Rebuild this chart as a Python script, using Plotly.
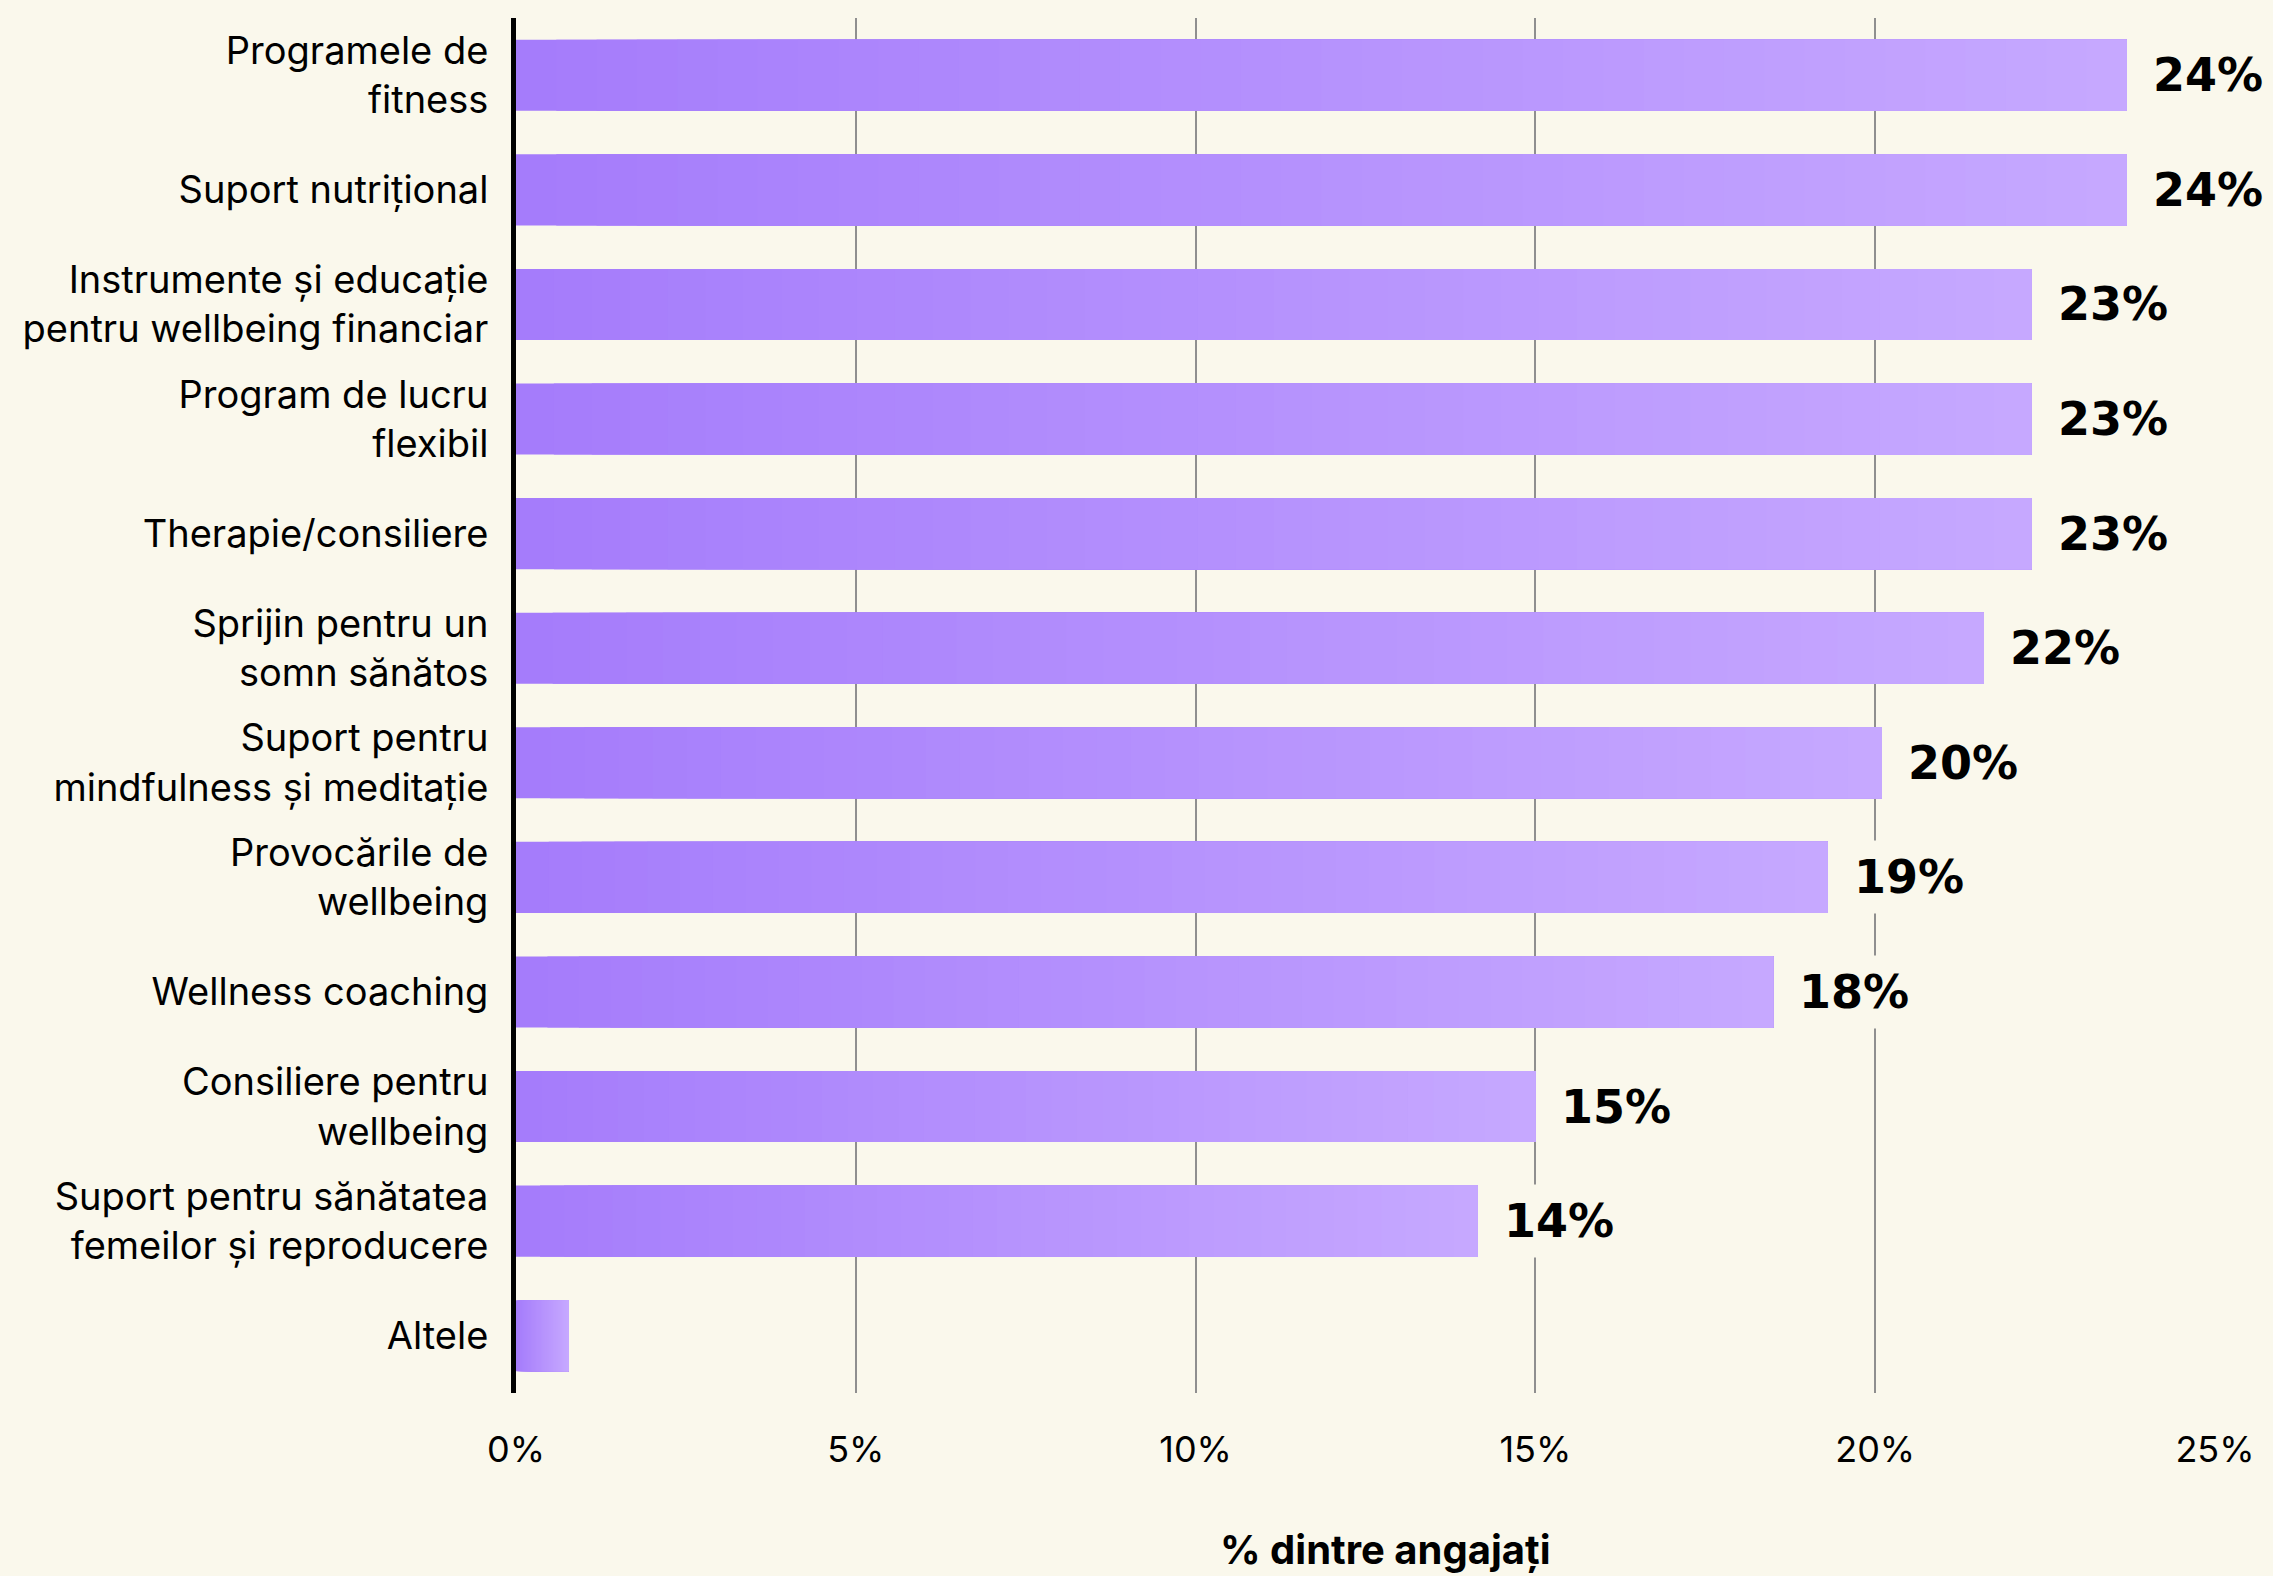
import plotly.graph_objects as go

categories = [
    "Programele de<br>fitness",
    "Suport nutrițional",
    "Instrumente și educație<br>pentru wellbeing financiar",
    "Program de lucru<br>flexibil",
    "Therapie/consiliere",
    "Sprijin pentru un<br>somn sănătos",
    "Suport pentru<br>mindfulness și meditație",
    "Provocările de<br>wellbeing",
    "Wellness coaching",
    "Consiliere pentru<br>wellbeing",
    "Suport pentru sănătatea<br>femeilor și reproducere",
    "Altele",
]
values = [23.7, 23.7, 22.3, 22.3, 22.3, 21.6, 20.1, 19.3, 18.5, 15.0, 14.15, 0.77]
value_labels = ["24%", "24%", "23%", "23%", "23%", "22%", "20%", "19%", "18%", "15%", "14%", ""]
tick_vals = [0, 5, 10, 15, 20, 25]
tick_text = ["0%", "5%", "10%", "15%", "20%", "25%"]
x_title = "% dintre angajați"

BG = "#FAF8EC"
C_LEFT = (0xA5, 0x7C, 0xFB)
C_RIGHT = (0xC6, 0xA8, 0xFF)
N_STEPS = 40

fig = go.Figure()
for k in range(N_STEPS):
    t = k / (N_STEPS - 1)
    col = "rgb({},{},{})".format(*[round(a + (b - a) * t) for a, b in zip(C_LEFT, C_RIGHT)])
    frac = k / N_STEPS
    fig.add_trace(go.Bar(
        y=categories,
        x=[v * (1 - frac) for v in values],
        base=[v * frac for v in values],
        orientation="h",
        marker=dict(color=col, line=dict(width=0)),
        hoverinfo="skip",
        showlegend=False,
    ))

for cat, v, lab in zip(categories, values, value_labels):
    if not lab:
        continue
    fig.add_annotation(
        x=v, y=cat, xref="x", yref="y",
        text=lab, showarrow=False,
        xanchor="left", yanchor="middle", xshift=16,
        font=dict(family="DejaVu Sans", size=46, color="#000000", weight="bold"),
        bgcolor=BG, borderpad=9,
    )

fig.add_annotation(
    x=0.5115, y=-0.1135, xref="paper", yref="paper",
    text=x_title, showarrow=False, xanchor="center", yanchor="middle",
    font=dict(family="Inter", size=40, color="#000000", weight="bold"),
)

fig.update_layout(
    width=2273, height=1576,
    paper_bgcolor=BG, plot_bgcolor=BG,
    barmode="overlay", bargap=0.38,
    margin=dict(l=516, r=58, t=18, b=183),
    font=dict(family="Inter", color="#000000"),
    xaxis=dict(
        range=[0, 25], tickvals=tick_vals, ticktext=tick_text,
        showgrid=True, gridcolor="#8f8f8f", gridwidth=1.5,
        zeroline=False, showline=False, ticks="",
        tickfont=dict(family="Inter", size=36, color="#000000"),
        ticklabelstandoff=32,
        fixedrange=True,
    ),
    yaxis=dict(
        categoryorder="array", categoryarray=categories, autorange="reversed",
        showline=True, linecolor="#000000", linewidth=5,
        showgrid=False, zeroline=False, ticks="",
        tickfont=dict(family="Inter", size=38, color="#000000"),
        ticklabelstandoff=15,
        fixedrange=True,
    ),
)

fig.write_html("out.html")
